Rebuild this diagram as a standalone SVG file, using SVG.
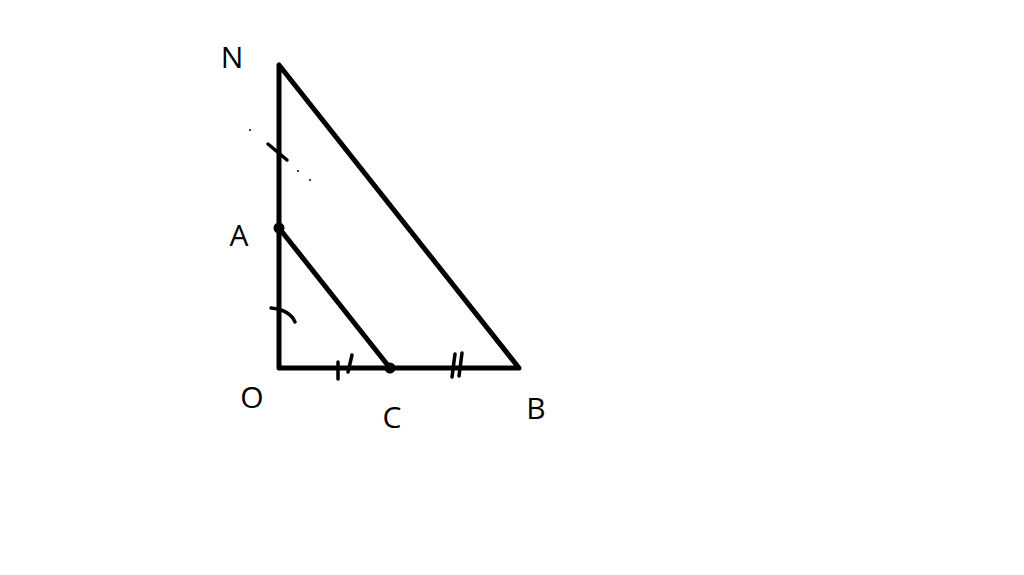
<svg xmlns="http://www.w3.org/2000/svg" width="1024" height="575" viewBox="0 0 1024 575">
<style>
.l{stroke:#000;stroke-width:5;fill:none;stroke-linecap:round;stroke-linejoin:round}
.t{stroke:#000;stroke-width:3.5;fill:none;stroke-linecap:round}
.lb{font-family:"Open Sans","Liberation Sans",sans-serif;font-size:30px;fill:#000;text-anchor:middle}
</style>
<rect width="1024" height="575" fill="#fff"/>
<g id="connectors">
<path class="l" d="M279,65 L279,368 L519,368 Z"/>
<path class="l" d="M279,228 L390,368"/>
<path class="t" d="M268,144 L287,160"/>
<path class="t" d="M271,308 Q290,310 295,322"/>
<path class="t" d="M338,362 L338,379"/>
<path class="t" d="M352,355 L348,372"/>
<path class="t" d="M455,354 L452,377"/>
<path class="t" d="M462,353 L459,376"/>
</g>
<g id="dots" fill="#000">
<circle cx="250" cy="130" r="1"/>
<circle cx="298" cy="171" r="1"/>
<circle cx="310" cy="180" r="1"/>
</g>
<g id="A"><circle cx="279" cy="228" r="5.5" fill="#000"/><text class="lb" x="239" y="246">A</text></g>
<g id="C"><circle cx="390" cy="368" r="5.5" fill="#000"/><text class="lb" x="392" y="428">C</text></g>
<g id="N"><text class="lb" x="232" y="68">N</text></g>
<g id="O"><text class="lb" x="252" y="408">O</text></g>
<g id="B"><text class="lb" x="536" y="419">B</text></g>
</svg>
